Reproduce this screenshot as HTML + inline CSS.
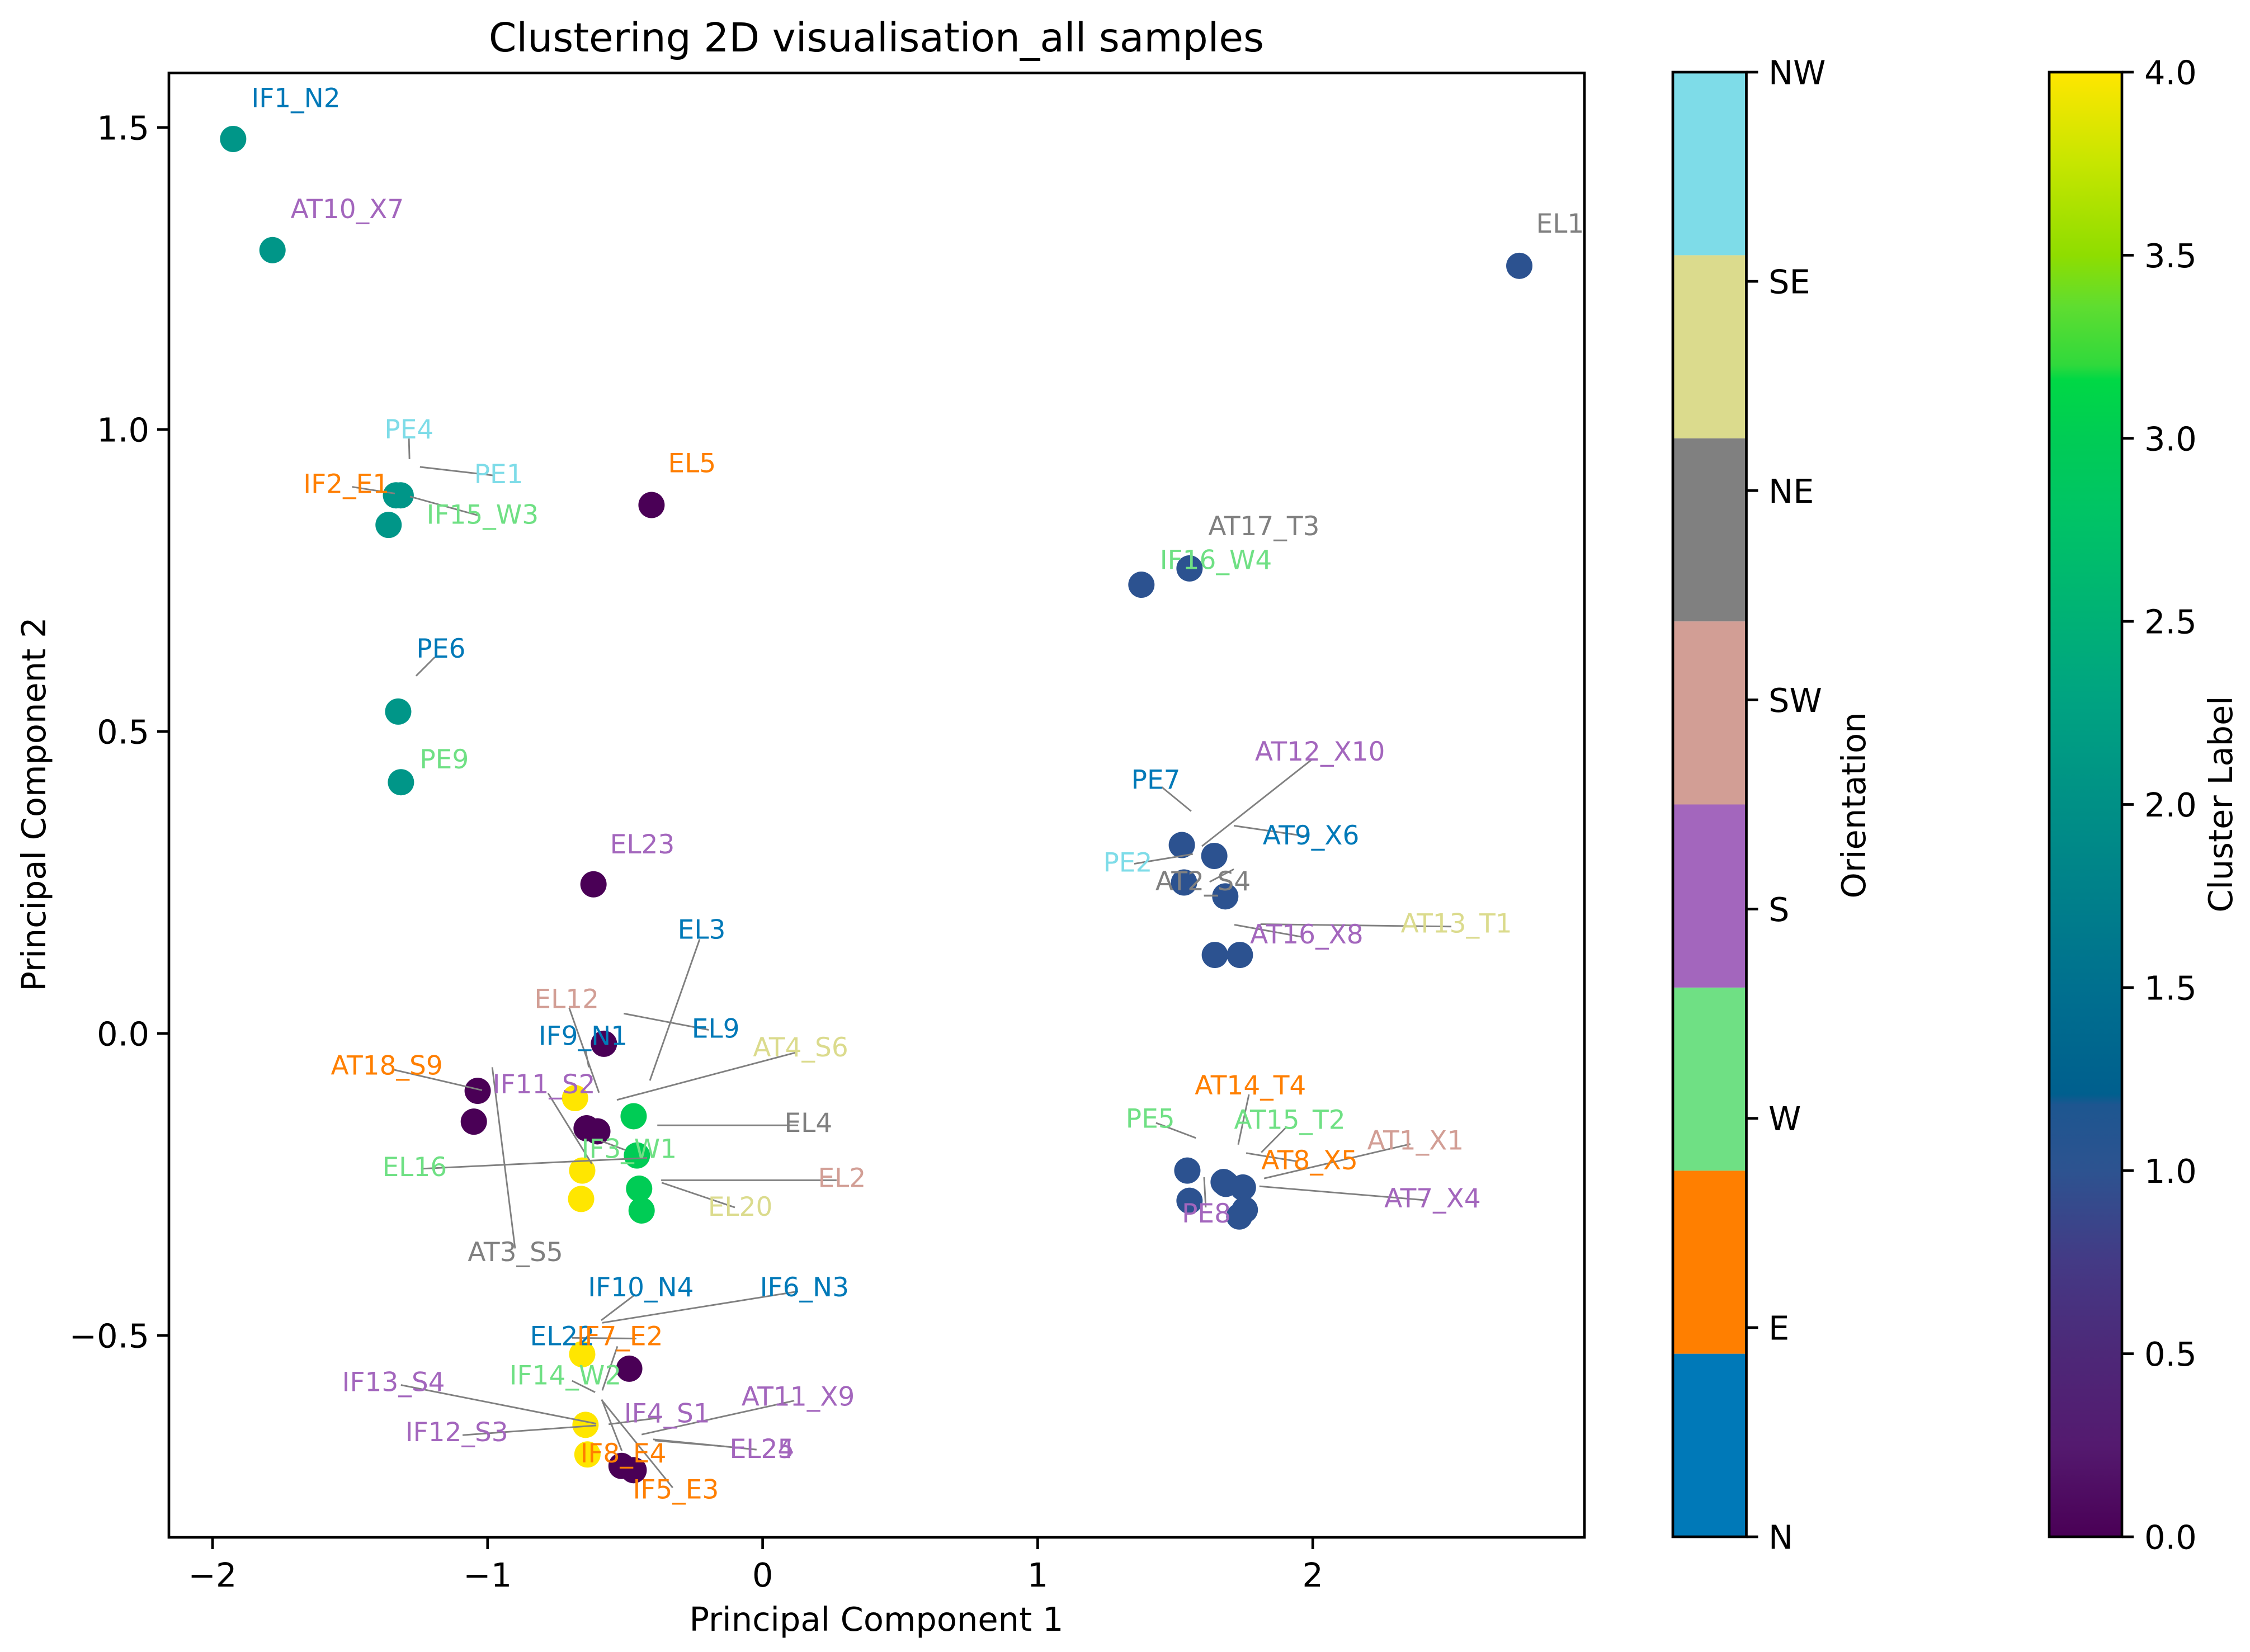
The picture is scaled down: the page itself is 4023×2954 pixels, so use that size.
<!DOCTYPE html>
<html lang="en">
<head>
<meta charset="utf-8">
<title>Clustering 2D visualisation_all samples</title>
<style>
html,body{margin:0;padding:0;background:#fff;}
svg{display:block;}
text{font-family:"DejaVu Sans","Liberation Sans",sans-serif;fill:#000;}
</style>
</head>
<body>
<svg id="chart" xmlns="http://www.w3.org/2000/svg" width="4023" height="2954" viewBox="0 0 4023 2954">
  <defs>
    <linearGradient id="cluster-gradient" x1="0" y1="1" x2="0" y2="0">
      <stop offset="0" stop-color="#4a0056"/>
      <stop offset="0.0625" stop-color="#541a6f"/>
      <stop offset="0.125" stop-color="#4d2878"/>
      <stop offset="0.1875" stop-color="#443a85"/>
      <stop offset="0.25" stop-color="#2d5390"/>
      <stop offset="0.295" stop-color="#1d5690"/>
      <stop offset="0.302" stop-color="#005f8e"/>
      <stop offset="0.375" stop-color="#00708f"/>
      <stop offset="0.5" stop-color="#009086"/>
      <stop offset="0.575" stop-color="#00a481"/>
      <stop offset="0.7" stop-color="#00c465"/>
      <stop offset="0.75" stop-color="#00cc55"/>
      <stop offset="0.79" stop-color="#00d845"/>
      <stop offset="0.8" stop-color="#30d93c"/>
      <stop offset="0.84" stop-color="#5fdd30"/>
      <stop offset="0.875" stop-color="#8fdd00"/>
      <stop offset="0.94" stop-color="#c8e600"/>
      <stop offset="1" stop-color="#ffe600"/>
    </linearGradient>
  </defs>
  <rect x="0" y="0" width="4023" height="2954" fill="#ffffff"/>
  <text x="1567" y="92" font-size="71" text-anchor="middle">Clustering 2D visualisation_all samples</text>
  <text x="1567" y="2916" font-size="59" text-anchor="middle">Principal Component 1</text>
  <text x="0" y="0" font-size="59" text-anchor="middle" transform="translate(81 1438) rotate(-90)">Principal Component 2</text>
  <text x="0" y="0" font-size="59" text-anchor="middle" transform="translate(3335 1440) rotate(-90)">Orientation</text>
  <text x="0" y="0" font-size="59" text-anchor="middle" transform="translate(3991 1438) rotate(-90)">Cluster Label</text>
  <g id="points"></g>
  <g id="leaders"></g>
  <g id="labels"></g>
  <rect x="302" y="130.5" width="2531" height="2618.5" fill="none" stroke="#000" stroke-width="4.7"/>
  <g id="axes"></g>
  <g id="orientation-bar"></g>
  <rect x="3664" y="129" width="130" height="2619" fill="url(#cluster-gradient)"/>
  <rect x="3664" y="129" width="130" height="2619" fill="none" stroke="#000" stroke-width="4.7"/>
  <rect x="2991" y="129" width="131.5" height="2619" fill="none" stroke="#000" stroke-width="4.7"/>
  <g id="cbar-ticks"></g>
</svg>
<script>
// Scatter data (principal-component coordinates)
const pc1 = [-1.925,-1.782,-1.333,-1.316,-1.360,-0.404,-1.325,-1.315,-0.615,2.751,1.552,1.377,
  1.524,1.642,1.532,1.682,1.644,1.735,1.544,1.552,1.676,1.684,1.746,1.753,1.733,
  -1.036,-1.050,-0.577,-0.682,-0.640,-0.601,-0.469,-0.457,-0.449,-0.440,-0.656,-0.660,
  -0.656,-0.485,-0.644,-0.637,-0.513,-0.469];
const pc2 = [1.481,1.297,0.891,0.891,0.842,0.875,0.533,0.416,0.247,1.271,0.770,0.743,
  0.312,0.294,0.250,0.227,0.130,0.130,-0.227,-0.277,-0.246,-0.249,-0.255,-0.292,-0.303,
  -0.095,-0.146,-0.017,-0.107,-0.157,-0.162,-0.137,-0.202,-0.257,-0.293,-0.227,-0.274,
  -0.531,-0.555,-0.648,-0.697,-0.716,-0.723];
const clusterOf = [2,2,2,2,2,0,2,2,0,1,1,1,
  1,1,1,1,1,1,1,1,1,1,1,1,1,
  0,0,0,4,0,0,3,3,3,3,4,4,
  4,0,4,4,0,0];
const clusterColors = ["#4a0056","#2c5290","#009688","#00cc55","#ffe600"];

// Sample labels: text, orientation index, label anchor in data units
const labelNames = ["IF1_N2","AT10_X7","PE4","PE1","IF2_E1","IF15_W3","EL5","PE6","PE9","EL23","EL1","AT17_T3","IF16_W4",
  "EL3","EL12","EL9","IF9_N1","AT4_S6","AT18_S9","IF11_S2","EL4","IF3_W1","EL16","EL2","EL20","AT3_S5","IF10_N4","IF6_N3",
  "EL22","IF7_E2","IF14_W2","IF13_S4","AT11_X9","IF4_S1","IF12_S3","EL25","EL24","IF8_E4","IF5_E3",
  "AT12_X10","PE7","AT9_X6","PE2","AT2_S4","AT13_T1","AT16_X8","AT14_T4","PE5","AT15_T2","AT1_X1","AT8_X5","PE8","AT7_X4"];
const labelOrient = [0,3,7,7,1,2,1,0,2,3,5,5,2,
  0,4,0,0,6,1,3,5,2,2,4,6,5,0,0,
  0,1,2,3,3,3,3,3,3,1,1,
  3,0,0,7,5,6,3,1,2,2,4,1,3,3];
const labelX = [-1.859,-1.716,-1.375,-1.049,-1.670,-1.222,-0.344,-1.259,-1.247,-0.555,2.812,1.620,1.444,
  -0.309,-0.830,-0.258,-0.815,-0.035,-1.570,-0.982,0.079,-0.659,-1.383,0.201,-0.199,-1.072,-0.635,-0.010,
  -0.846,-0.675,-0.921,-1.529,-0.077,-0.504,-1.299,-0.120,-0.120,-0.663,-0.472,
  1.790,1.340,1.818,1.238,1.428,2.320,1.772,1.571,1.320,1.714,2.198,1.813,1.524,2.260];
const labelY = [1.534,1.350,0.985,0.911,0.895,0.844,0.929,0.622,0.439,0.298,1.326,0.825,0.769,
  0.157,0.042,-0.007,-0.019,-0.038,-0.068,-0.099,-0.163,-0.206,-0.236,-0.254,-0.302,-0.377,-0.435,-0.435,
  -0.516,-0.516,-0.581,-0.592,-0.616,-0.644,-0.675,-0.703,-0.703,-0.710,-0.770,
  0.452,0.405,0.313,0.268,0.237,0.167,0.149,-0.101,-0.156,-0.158,-0.192,-0.225,-0.313,-0.288];

// Leader lines between labels and points, in data units
const leaderX1 = [-0.229,-0.703,-0.196,-0.644,0.125,-1.341,-0.900,-0.780,0.129,-0.499,-1.242,0.269,-0.101,-0.463,0.129,-0.693,-0.528,-0.693,-1.315,-1.091,-0.371,0.115,-0.022,-0.129,-0.512,-0.327,
  1.998,1.451,1.985,1.351,1.625,1.605,2.504,1.959,1.768,1.430,1.902,2.355,1.947,1.605,2.410,
  -1.286,-0.980,-1.492,-1.036,-1.192];
const leaderY1 = [0.156,0.042,0.006,-0.027,-0.031,-0.060,-0.356,-0.099,-0.152,-0.193,-0.224,-0.243,-0.288,-0.432,-0.427,-0.504,-0.518,-0.575,-0.582,-0.665,-0.636,-0.608,-0.689,-0.684,-0.691,-0.752,
  0.454,0.408,0.326,0.281,0.251,0.228,0.177,0.160,-0.101,-0.148,-0.156,-0.183,-0.212,-0.238,-0.276,
  0.985,0.924,0.905,0.858,0.623];
const leaderX2 = [-0.410,-0.595,-0.505,-0.632,-0.530,-1.020,-0.983,-0.621,-0.383,-0.587,-0.420,-0.369,-0.367,-0.587,-0.583,-0.459,-0.583,-0.609,-0.605,-0.605,-0.560,-0.440,-0.398,-0.392,-0.585,-0.585,
  1.597,1.558,1.713,1.564,1.713,1.656,1.810,1.715,1.729,1.575,1.813,1.823,1.758,1.611,1.806,
  -1.284,-1.246,-1.337,-1.282,-1.260];
const leaderY2 = [-0.078,-0.098,0.033,-0.056,-0.110,-0.094,-0.056,-0.216,-0.152,-0.178,-0.206,-0.243,-0.247,-0.475,-0.479,-0.505,-0.591,-0.594,-0.646,-0.649,-0.647,-0.664,-0.672,-0.674,-0.606,-0.607,
  0.310,0.368,0.344,0.297,0.272,0.228,0.181,0.180,-0.184,-0.173,-0.197,-0.240,-0.198,-0.288,-0.253,
  0.951,0.938,0.894,0.889,0.592];

// Ticks
const xTicks = [-2,-1,0,1,2];
const xTickLabels = ["\u22122","\u22121","0","1","2"];
const yTicks = [-0.5,0,0.5,1,1.5];
const yTickLabels = ["\u22120.5","0.0","0.5","1.0","1.5"];
const orientNames = ["N","E","W","S","SW","NE","SE","NW"];
const orientColors = ["#0079b8","#ff7f00","#6fe084","#a366bd","#d29e95","#808080","#dbdb8d","#7edce8"];
const clusterTicks = [0,0.5,1,1.5,2,2.5,3,3.5,4];
const clusterTickLabels = ["0.0","0.5","1.0","1.5","2.0","2.5","3.0","3.5","4.0"];

const NS = "http://www.w3.org/2000/svg";
const xScale = v => 871.8 + (v + 1) * 491.8;
const yScale = v => 1848 - v * 1080;
const barTop = 129, barBottom = 2748;
const clusterScale = v => barBottom - (v / 4) * (barBottom - barTop);
const orientTickScale = i => barBottom - (i / (orientNames.length - 1)) * (barBottom - barTop);
const orientEdgeScale = i => barBottom - (i / orientNames.length) * (barBottom - barTop);

function make(tag, attrs, parent, content) {
  const el = document.createElementNS(NS, tag);
  for (const k in attrs) el.setAttribute(k, attrs[k]);
  if (content !== undefined) el.textContent = content;
  parent.appendChild(el);
  return el;
}

const pointsG = document.getElementById("points");
pc1.forEach((v, i) => {
  const c = make("circle", {cx: xScale(v), cy: yScale(pc2[i]), r: 23.5, fill: clusterColors[clusterOf[i]]}, pointsG);
  
  
});

const leadersG = document.getElementById("leaders");
leaderX1.forEach((v, i) => {
  const l = make("line", {x1: xScale(v), y1: yScale(leaderY1[i]), x2: xScale(leaderX2[i]), y2: yScale(leaderY2[i]), stroke: "#808080", "stroke-width": 2.9}, leadersG);
  
  
});

const labelsG = document.getElementById("labels");
labelNames.forEach((name, i) => {
  const t = make("text", {x: xScale(labelX[i]), y: yScale(labelY[i]), "font-size": 47, style: "fill:" + orientColors[labelOrient[i]]}, labelsG, name);
  
  
});

const axesG = document.getElementById("axes");
xTicks.forEach((v, i) => {
  const m = make("line", {x1: xScale(v), x2: xScale(v), y1: 2749, y2: 2770, stroke: "#000", "stroke-width": 4.7}, axesG);
  
  
  const t = make("text", {x: xScale(v), y: 2837, "font-size": 59, "text-anchor": "middle"}, axesG, xTickLabels[i]);
  
  
});
yTicks.forEach((v, i) => {
  const m = make("line", {x1: 281, x2: 302, y1: yScale(v), y2: yScale(v), stroke: "#000", "stroke-width": 4.7}, axesG);
  
  
  const t = make("text", {x: 267, y: yScale(v) + 21.5, "font-size": 59, "text-anchor": "end"}, axesG, yTickLabels[i]);
  
  
});

const orientG = document.getElementById("orientation-bar");
orientColors.forEach((col, i) => {
  const top = orientEdgeScale(i + 1), bottom = orientEdgeScale(i);
  const r = make("rect", {x: 2991, y: top, width: 131.5, height: bottom - top, fill: col}, orientG);
  
  
});

const cbarG = document.getElementById("cbar-ticks");
orientNames.forEach((name, i) => {
  const y = orientTickScale(i);
  const m = make("line", {x1: 3122.5, x2: 3143.5, y1: y, y2: y, stroke: "#000", "stroke-width": 4.7}, cbarG);
  
  
  const t = make("text", {x: 3162, y: y + 21.5, "font-size": 59}, cbarG, name);
  
  
});
clusterTicks.forEach((v, i) => {
  const y = clusterScale(v);
  const m = make("line", {x1: 3794, x2: 3815, y1: y, y2: y, stroke: "#000", "stroke-width": 4.7}, cbarG);
  
  
  const t = make("text", {x: 3834, y: y + 21.5, "font-size": 59}, cbarG, clusterTickLabels[i]);
  
  
});
</script>
</body>
</html>
